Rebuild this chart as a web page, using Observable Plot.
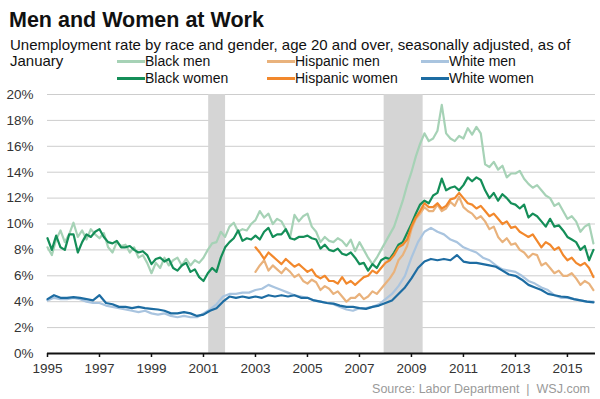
<!DOCTYPE html>
<html>
<head>
<meta charset="utf-8">
<script src="https://cdn.jsdelivr.net/npm/d3@7"></script>
<script src="https://cdn.jsdelivr.net/npm/@observablehq/plot@0.6"></script>
<style>
  body { margin: 0; width: 600px; height: 399px; overflow: hidden; background: #fff; position: relative;
         font-family: "Liberation Sans", Arial, sans-serif; color: #111; }
  .abs { position: absolute; white-space: nowrap; }
  #title { left: 9px; top: 10px; font-size: 21.5px; line-height: 21.5px; font-weight: bold; }
  #subtitle { left: 10px; top: 39.3px; font-size: 15px; line-height: 12px; }
  #subtitle2 { left: 10px; top: 55px; font-size: 15px; line-height: 12px; }
  .leg { font-size: 14px; line-height: 12px; }
  .sw { position: absolute; height: 3px; width: 28px; }
  #source { right: 10px; top: 382.5px; font-size: 12.5px; line-height: 12.5px; color: #9a9a9a; }
  #chart { position: absolute; left: 0; top: 80px; }
</style>
</head>
<body>
<div id="title" class="abs">Men and Women at Work</div>
<div id="subtitle" class="abs">Unemployment rate by race and gender, age 20 and over, seasonally adjusted, as of</div>
<div id="subtitle2" class="abs">January</div>
<div id="legend"></div>
<div id="chart"></div>
<div id="source" class="abs">Source: Labor Department&nbsp; |&nbsp; WSJ.com</div>
<script>
// Readings every two months (Jan, Mar, May, Jul, Sep, Nov), percent
const blackMenStart = 1995;
const blackMen = [
  8.2, 7.6, 8.8, 9.5, 8.6, 9.2,
  10.1, 9.0, 9.5, 8.8, 9.6, 9.2,
  8.9, 9.3, 8.2, 7.8, 8.6, 8.3,
  8.4, 7.8, 8.2, 7.4, 7.6, 7.0,
  6.2, 7.0, 6.6, 7.4, 6.8, 7.2,
  7.4, 6.8, 7.3, 6.8, 7.2, 7.0,
  7.4, 8.0, 8.5, 8.6, 9.4, 9.0,
  9.8, 10.1, 9.4, 9.6, 9.5, 10.0,
  10.3, 11.0, 10.5, 10.8, 10.0, 10.4,
  10.2, 9.6, 9.0, 10.7, 10.2, 10.6,
  10.8, 9.8, 9.4, 8.6, 9.0, 8.7,
  8.6, 8.9, 8.7, 8.3, 8.8, 7.9,
  8.6, 8.0, 7.4, 6.9, 7.4, 8.0,
  8.6, 9.2, 9.8, 10.8, 11.8, 13.0,
  14.0, 15.2, 16.2, 17.0, 16.4, 16.6,
  17.2, 19.2, 17.0, 16.6, 16.4, 16.8,
  16.6, 17.4, 16.9, 17.5, 17.0, 14.6,
  14.4, 14.8, 14.2, 14.5, 13.6, 13.9,
  13.9, 14.1, 13.5, 13.1, 12.8, 13.0,
  12.6, 12.2, 12.0, 11.4, 11.6, 11.0,
  10.4, 10.6, 10.2, 9.4, 9.8, 10.0,
  8.5
];
const blackWomenStart = 1995;
const blackWomen = [
  8.9, 8.0, 9.1, 8.2, 8.0, 9.2,
  9.2, 7.8, 8.6, 9.2, 9.0, 9.4,
  9.6, 9.0, 8.6, 8.5, 8.7, 8.2,
  8.2, 8.3, 8.0, 7.8, 7.9, 7.6,
  6.9, 7.3, 7.4, 7.1, 7.3, 6.6,
  6.4, 6.8, 7.0, 6.3, 6.5, 5.9,
  5.6, 6.2, 6.6, 6.3, 7.4, 8.2,
  8.6, 8.9, 9.5, 8.7, 8.9, 8.8,
  9.1, 8.8, 9.4, 9.7, 9.0, 9.2,
  9.2, 9.6, 8.9, 8.8, 9.0, 9.0,
  9.1, 8.9, 8.8, 8.1, 8.4, 8.0,
  7.9, 8.1, 7.7, 7.6, 7.8, 7.4,
  6.9, 7.0, 6.4, 6.9, 6.6, 7.2,
  7.4, 7.3, 7.8, 8.4, 8.6, 9.3,
  10.0, 10.8, 11.5, 11.8, 11.6, 12.2,
  12.4, 13.5, 12.6, 12.8, 12.9, 12.6,
  13.0, 13.6, 13.3, 13.6, 13.4, 12.6,
  12.0, 12.4, 11.8, 12.3, 12.0, 11.6,
  11.5, 11.2, 11.5, 10.5, 10.8, 10.6,
  10.2, 9.8, 10.4, 9.8, 9.9, 9.5,
  9.0, 8.8, 8.6, 8.0, 8.3, 7.2,
  8.0
];
const hispanicMenStart = 2003;
const hispanicMen = [
  6.3, 6.8, 7.2, 6.4, 6.8, 6.5,
  6.2, 6.6, 6.3, 5.9, 6.1, 5.6,
  5.4, 5.7, 5.5, 4.9, 5.2, 5.0,
  4.6, 4.8, 4.4, 4.0, 4.3, 4.3,
  4.6, 4.2, 4.4, 4.8, 4.6, 5.0,
  5.4, 5.8, 6.3, 7.2, 7.6, 8.3,
  9.6, 10.4, 10.8, 11.3, 11.0, 11.0,
  11.5, 11.0, 11.2, 11.7, 11.4, 12.1,
  11.3, 11.0, 10.8, 10.4, 10.6, 10.2,
  9.6, 9.8, 9.0, 8.6, 8.9, 8.4,
  8.5, 8.0, 7.8, 7.4, 7.7, 7.6,
  6.8, 7.0, 6.6, 6.2, 6.4, 6.0,
  6.0, 6.2, 5.8, 5.3, 5.6, 5.4,
  4.9
];
const hispanicWomenStart = 2003;
const hispanicWomen = [
  8.2, 7.8, 7.3, 7.8, 7.5, 7.2,
  6.9, 7.3, 7.0, 6.7, 6.9, 6.6,
  6.3, 6.5, 6.0, 5.8, 6.0, 5.6,
  5.6, 5.4, 5.9, 5.4, 5.6, 5.3,
  5.6, 5.9, 6.0, 6.4, 6.2, 6.6,
  7.0, 7.2, 7.6, 8.2, 8.4, 8.8,
  9.8, 10.5, 11.0, 11.6, 11.3, 11.3,
  11.6, 11.2, 11.4, 11.9, 12.0, 12.4,
  12.0, 11.6, 11.5, 11.2, 11.4, 11.0,
  10.6, 10.8, 10.4, 10.0, 10.2, 9.7,
  9.8, 9.4, 9.2, 9.0, 9.2, 8.7,
  8.2, 8.6, 8.4, 8.0, 8.2, 7.6,
  7.2, 7.4, 7.0, 6.8, 7.0, 6.6,
  5.9
];
// Quarterly readings (Jan, Apr, Jul, Oct), percent
const whiteMenStart = 1995;
const whiteMen = [
  4.1, 4.3, 4.2, 4.2,
  4.3, 4.2, 4.0, 3.9,
  3.9, 3.7, 3.6, 3.5,
  3.4, 3.3, 3.2, 3.3,
  3.1, 3.0, 3.1, 2.9,
  2.8, 2.9, 2.8, 2.8,
  3.1, 3.4, 3.8, 4.4,
  4.6, 4.6, 4.7, 4.7,
  4.9, 5.0, 5.3, 5.1,
  4.9, 4.7, 4.5, 4.4,
  4.3, 4.1, 4.0, 3.9,
  3.8, 3.6, 3.4, 3.3,
  3.5, 3.5, 3.6, 3.8,
  4.2, 4.6, 5.2, 6.0,
  7.4, 8.6, 9.4, 9.7,
  9.4, 9.2, 8.8, 8.6,
  8.2, 8.0, 7.8, 7.4,
  7.2, 6.8, 6.5, 6.4,
  6.3, 6.0, 5.6, 5.4,
  5.1, 4.9, 4.5, 4.3,
  4.3, 4.2, 4.1, 4.0,
  4.0
];
const whiteWomenStart = 1995;
const whiteWomen = [
  4.2, 4.5, 4.3, 4.3,
  4.35, 4.3, 4.2, 4.1,
  4.5, 3.9, 3.8, 3.6,
  3.6, 3.5, 3.6, 3.5,
  3.45, 3.4, 3.3, 3.1,
  3.1, 3.2, 3.1, 2.9,
  3.0, 3.3, 3.5, 4.0,
  4.4, 4.3, 4.4, 4.3,
  4.4, 4.3, 4.5, 4.4,
  4.5, 4.4, 4.5, 4.3,
  4.3, 4.1, 4.0, 3.9,
  3.85, 3.7, 3.6, 3.6,
  3.5, 3.45, 3.6, 3.7,
  3.9, 4.1, 4.6, 5.1,
  5.8, 6.6, 7.1, 7.3,
  7.2, 7.3, 7.2, 7.6,
  7.1, 7.0, 7.0, 6.9,
  6.8, 6.7, 6.4, 6.1,
  6.0, 5.7, 5.3, 5.1,
  4.9, 4.6, 4.5, 4.4,
  4.35, 4.2, 4.1, 4.0,
  3.95
];

const seriesNames = ["Black men", "Hispanic men", "White men", "Black women", "Hispanic women", "White women"];
const seriesColors = ["#a6d2b6", "#e9b27c", "#a9c4df", "#148e58", "#f2882c", "#1d6ca2"];
const recessionStart = [2001.2, 2007.95];
const recessionEnd = [2001.85, 2009.45];
const xTicks = [1995, 1997, 1999, 2001, 2003, 2005, 2007, 2009, 2011, 2013, 2015];
const yTicks = [0, 2, 4, 6, 8, 10, 12, 14, 16, 18, 20];

const bimonthly = 1 / 6, quarterly = 0.25; // spacing of the readings, in years
const toRows = (start, stepYears, values) => values.map((v, i) => ({year: start + i * stepYears, value: v}));

const seriesData = {
  "Black men": toRows(blackMenStart, bimonthly, blackMen),
  "Black women": toRows(blackWomenStart, bimonthly, blackWomen),
  "Hispanic men": toRows(hispanicMenStart, bimonthly, hispanicMen),
  "Hispanic women": toRows(hispanicWomenStart, bimonthly, hispanicWomen),
  "White men": toRows(whiteMenStart, quarterly, whiteMen),
  "White women": toRows(whiteWomenStart, quarterly, whiteWomen)
};
const colorOf = name => seriesColors[seriesNames.indexOf(name)];
const drawOrder = ["Black men", "White men", "Hispanic men", "Black women", "Hispanic women", "White women"];
const recessions = recessionStart.map((s, i) => ({start: s, end: recessionEnd[i]}));

const chart = Plot.plot({
  width: 600,
  height: 319,
  marginTop: 14,
  marginBottom: 46,
  marginLeft: 47,
  marginRight: 5,
  style: {fontFamily: "'Liberation Sans', Arial, sans-serif", fontSize: "13.5px", color: "#333", background: "transparent"},
  x: {domain: [1995, 2016.08], label: null},
  y: {domain: [0, 20], label: null},
  marks: [
    Plot.gridY(yTicks, {stroke: "#cdcdcd", strokeOpacity: 1, strokeWidth: 1}),
    Plot.rect(recessions, {x1: "start", x2: "end", y1: 0, y2: 20, fill: "#d5d5d5"}),
    ...drawOrder.map(name => Plot.line(seriesData[name], {
      x: "year", y: "value", stroke: colorOf(name), strokeWidth: 2.2, strokeLinejoin: "round"
    })),
    Plot.ruleY([0], {stroke: "#111", strokeWidth: 2}),
    Plot.axisY(yTicks, {tickSize: 0, tickPadding: 14, tickFormat: d => d + "%", fill: "#333", label: null}),
    Plot.axisX(xTicks, {tickSize: 4, tickPadding: 6, tickFormat: d => String(d), stroke: "#111", strokeWidth: 1.5, fill: "#333", label: null})
  ]
});
document.getElementById("chart").appendChild(chart);

// Legend (2 rows x 3 columns)
const legend = document.getElementById("legend");
const colX = [117, 267, 421];
const rowTop = [55.2, 71.6];
seriesNames.forEach((name, i) => {
  const col = i % 3, row = Math.floor(i / 3);
  const sw = document.createElement("div");
  sw.className = "sw";
  sw.style.left = colX[col] + "px";
  sw.style.top = (rowTop[row] + 5) + "px";
  sw.style.background = seriesColors[i];
  legend.appendChild(sw);
  const t = document.createElement("div");
  t.className = "abs leg";
  t.style.left = (colX[col] + 28) + "px";
  t.style.top = rowTop[row] + "px";
  t.textContent = name;
  legend.appendChild(t);
});
</script>
</body>
</html>
